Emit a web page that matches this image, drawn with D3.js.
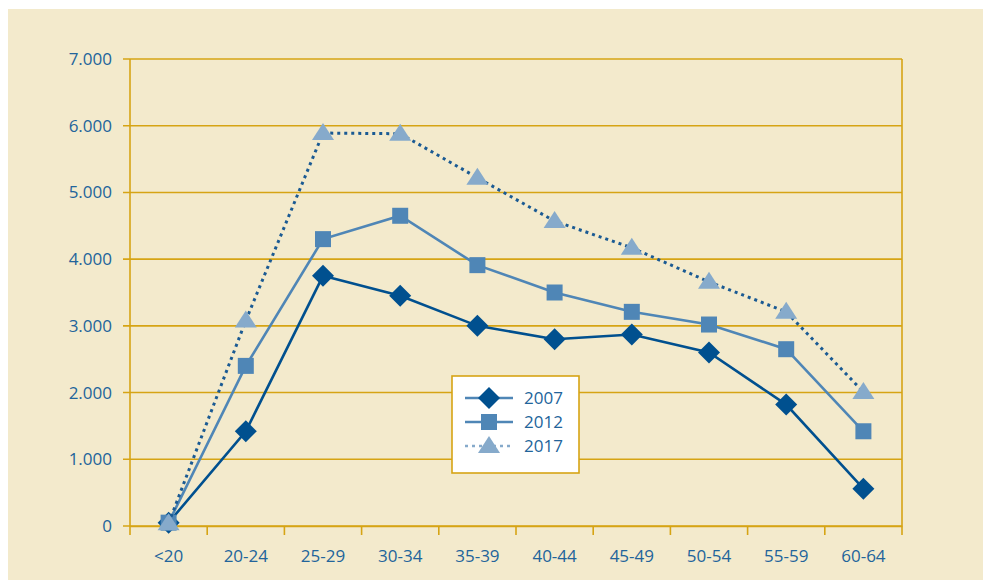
<!DOCTYPE html>
<html>
<head>
<meta charset="utf-8">
<script src="https://cdn.jsdelivr.net/npm/d3@7"></script>
<style>
  body { margin: 0; background: #fff; }
  text { font-family: "Open Sans", sans-serif; }
</style>
</head>
<body>
<script>
const w = 983;
const h = 580;

const categories = ["<20", "20-24", "25-29", "30-34", "35-39", "40-44", "45-49", "50-54", "55-59", "60-64"];
const values2007 = [50, 1420, 3750, 3450, 3000, 2800, 2870, 2600, 1820, 560];
const values2012 = [50, 2400, 4300, 4650, 3910, 3500, 3210, 3020, 2650, 1420];
const values2017 = [40, 3080, 5890, 5880, 5220, 4570, 4170, 3660, 3210, 2010];
const yTicks = [0, 1000, 2000, 3000, 4000, 5000, 6000, 7000];

const series = [
  { name: "2007", values: values2007, line: "#00508f", marker: "#00508f", dash: null, shape: "diamond" },
  { name: "2012", values: values2012, line: "#4f86b6", marker: "#4f86b6", dash: null, shape: "square" },
  { name: "2017", values: values2017, line: "#1a5a93", marker: "#86aacb", dash: "3,4", shape: "triangle" }
];

const gold = "#d6a414";
const textColor = "#22649b";

const svg = d3.select("body").append("svg").attr("width", w).attr("height", h);

// background panel
svg.append("rect").attr("x", 8).attr("y", 9).attr("width", w - 8).attr("height", h - 9).attr("fill", "#f3eacc");

const plotLeft = 130, plotRight = 902, plotTop = 59, plotBottom = 526;

const xScale = d3.scaleBand().domain(categories).range([plotLeft, plotRight]);
const yScale = d3.scaleLinear().domain([0, 7000]).range([plotBottom, plotTop]);

// gridlines
svg.append("g")
  .selectAll("line")
  .data(yTicks)
  .enter()
  .append("line")
  .attr("x1", plotLeft - 7)
  .attr("x2", plotRight)
  .attr("y1", d => yScale(d))
  .attr("y2", d => yScale(d))
  .attr("stroke", gold)
  .attr("stroke-width", 1.6);

// left and right border
svg.append("line").attr("x1", plotLeft).attr("x2", plotLeft).attr("y1", plotTop).attr("y2", plotBottom + 9)
  .attr("stroke", gold).attr("stroke-width", 1.6);
svg.append("line").attr("x1", plotRight).attr("x2", plotRight).attr("y1", plotTop).attr("y2", plotBottom + 9)
  .attr("stroke", gold).attr("stroke-width", 1.6);

// x axis
const xAxis = d3.axisBottom(xScale).tickSize(0).tickPadding(24);
const gx = svg.append("g").attr("transform", "translate(0," + plotBottom + ")").call(xAxis);
gx.select(".domain").attr("stroke", gold).attr("stroke-width", 1.6);
gx.selectAll("text").attr("fill", textColor).style("font-size", "17px");

// category dividers below axis
svg.append("g")
  .selectAll("line")
  .data(categories.slice(1))
  .enter()
  .append("line")
  .attr("x1", d => xScale(d))
  .attr("x2", d => xScale(d))
  .attr("y1", plotBottom)
  .attr("y2", plotBottom + 9)
  .attr("stroke", gold)
  .attr("stroke-width", 1.6);

// y axis
const yAxis = d3.axisLeft(yScale).tickValues(yTicks).tickSize(0).tickPadding(18)
  .tickFormat(d => d === 0 ? "0" : d3.format(",")(d).replace(",", "."));
const gy = svg.append("g").attr("transform", "translate(" + plotLeft + ",0)").call(yAxis);
gy.select(".domain").remove();
gy.selectAll("text").attr("fill", textColor).style("font-size", "17px");

const cx = d => xScale(d) + xScale.bandwidth() / 2;

function drawMarker(g, shape, color, x, y) {
  if (shape === "diamond") {
    g.append("path").attr("d", `M${x},${y - 11}L${x + 11},${y}L${x},${y + 11}L${x - 11},${y}Z`).attr("fill", color);
  } else if (shape === "square") {
    g.append("rect").attr("x", x - 8).attr("y", y - 8).attr("width", 16).attr("height", 16).attr("fill", color);
  } else {
    g.append("path").attr("d", `M${x},${y - 10}L${x + 11},${y + 7}L${x - 11},${y + 7}Z`).attr("fill", color);
  }
}

const line = d3.line().x((d, i) => cx(categories[i])).y(d => yScale(d));

series.forEach(s => {
  const g = svg.append("g");
  g.append("path")
    .datum(s.values)
    .attr("d", line)
    .attr("fill", "none")
    .attr("stroke", s.line)
    .attr("stroke-width", s.dash ? 3 : 2.6)
    .attr("stroke-dasharray", s.dash);
  s.values.forEach((v, i) => drawMarker(g, s.shape, s.marker, cx(categories[i]), yScale(v)));
});

// legend
const lg = svg.append("g");
lg.append("rect").attr("x", 452).attr("y", 376).attr("width", 127).attr("height", 97)
  .attr("fill", "#fff").attr("stroke", gold).attr("stroke-width", 1.6);
const legendLine = ["#4f86b6", "#4f86b6", "#86aacb"];
series.forEach((s, i) => {
  const y = 398 + i * 24;
  lg.append("line").attr("x1", 465).attr("x2", 513).attr("y1", y).attr("y2", y)
    .attr("stroke", legendLine[i]).attr("stroke-width", 2.6)
    .attr("stroke-dasharray", s.dash);
  drawMarker(lg, s.shape, s.marker, 489, y);
  lg.append("text").attr("x", 524).attr("y", y).attr("dy", "0.35em")
    .attr("fill", textColor).style("font-size", "17px").text(s.name);
});
</script>
</body>
</html>
